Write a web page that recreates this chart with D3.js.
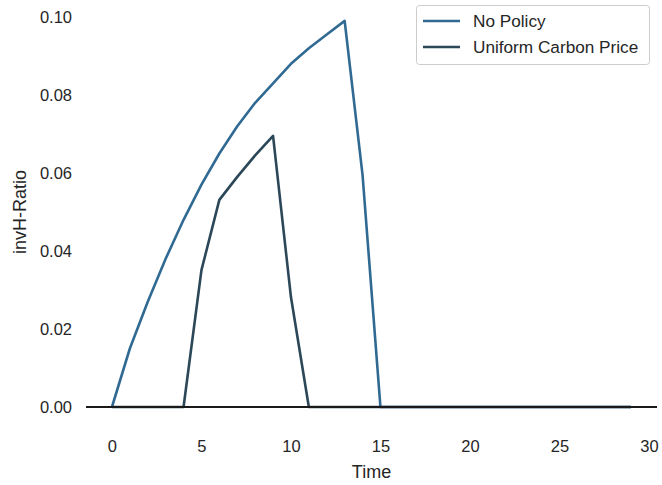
<!DOCTYPE html>
<html><head><meta charset="utf-8">
<script src="https://cdn.jsdelivr.net/npm/d3@7"></script>
<style>body{margin:0;background:#fff}svg{font-family:"Liberation Sans",Arial,sans-serif}</style>
</head><body><svg id="c" width="662" height="485"></svg>
<script>
const time = d3.range(0, 30);
const noPolicy = [0, 0.015, 0.027, 0.038, 0.048, 0.057, 0.065, 0.072, 0.078, 0.083, 0.088, 0.092, 0.0955, 0.099, 0.0595, 0,
  0,0,0,0,0,0,0,0,0,0,0,0,0,0];
const uniform = [0,0,0,0,0, 0.0351, 0.0531, 0.059, 0.0645, 0.0695, 0.0282, 0,
  0,0,0,0,0,0,0,0,0,0,0,0,0,0,0,0,0,0];
const seriesNames = ["No Policy", "Uniform Carbon Price"];
const colors = ["#306a93", "#2c4858"];
const xTicks = [0,5,10,15,20,25,30];
const yTicks = [0,0.02,0.04,0.06,0.08,0.10];

const svg = d3.select("#c");
const x = d3.scaleLinear().domain([-1.45, 30.45]).range([86, 657]);
const y = d3.scaleLinear().domain([0, 0.10]).range([407, 17]);

const xa = svg.append("g").attr("transform","translate(0,426)")
  .call(d3.axisBottom(x).tickValues(xTicks).tickFormat(d3.format("d")).tickSize(0).tickPadding(14));
const ya = svg.append("g").attr("transform","translate(86,0)")
  .call(d3.axisLeft(y).tickValues(yTicks).tickFormat(d3.format(".2f")).tickSize(0).tickPadding(14));
[xa, ya].forEach(a => {
  a.select(".domain").remove();
  a.selectAll("text").attr("font-size", 16.5).attr("fill", "#262626")
   .attr("font-family", '"Liberation Sans", Arial, sans-serif');
});

svg.append("text").attr("x", x(14.5)).attr("y", 478).attr("text-anchor","middle")
  .attr("font-size", 18).attr("fill","#262626").text("Time");
svg.append("text").attr("transform","translate(26,"+y(0.05)+") rotate(-90)").attr("text-anchor","middle")
  .attr("font-size", 18).attr("fill","#262626").text("invH-Ratio");

const line = d3.line().x((d,i)=>x(time[i])).y(d=>y(d));
[noPolicy, uniform].forEach((s,k) => {
  svg.append("path").datum(s).attr("d", line).attr("fill","none")
    .attr("stroke", colors[k]).attr("stroke-width", 2.6).attr("stroke-linejoin","round");
});

svg.append("line").attr("x1", 86).attr("x2", 657).attr("y1", y(0)).attr("y2", y(0))
  .attr("stroke", "#1a1a1a").attr("stroke-width", 1.8);

const lg = svg.append("g");
lg.append("rect").attr("x", 416.5).attr("y", 5.5).attr("width", 233).attr("height", 59)
  .attr("rx", 3).attr("fill", "#fff").attr("fill-opacity", 0.8).attr("stroke", "#cccccc");
seriesNames.forEach((n,i) => {
  const yy = 21 + i*26;
  lg.append("line").attr("x1", 423).attr("x2", 460).attr("y1", yy).attr("y2", yy)
    .attr("stroke", colors[i]).attr("stroke-width", 2.6);
  lg.append("text").attr("x", 473).attr("y", yy + 6).attr("font-size", 17.2)
    .attr("fill", "#262626").text(n);
});
</script></body></html>
